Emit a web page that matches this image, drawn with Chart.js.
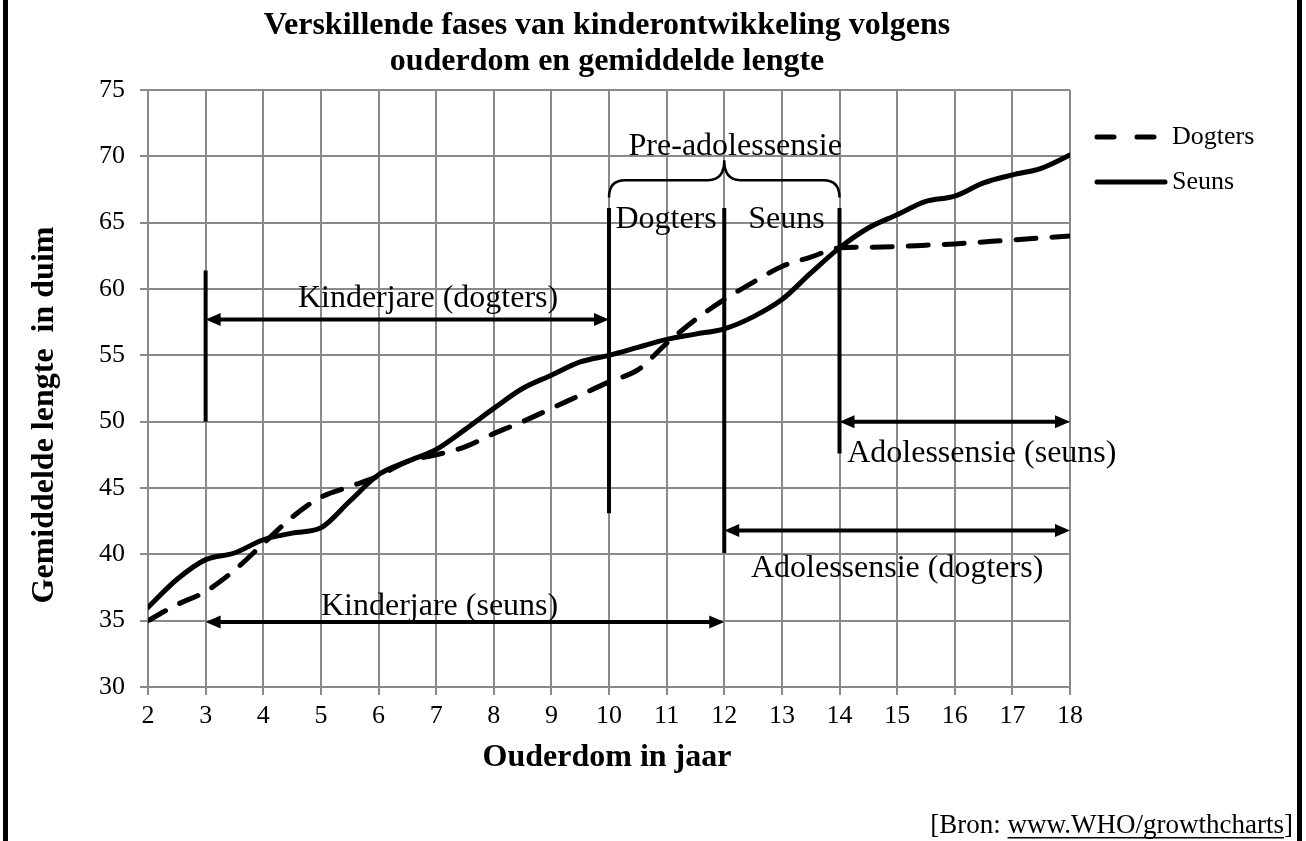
<!DOCTYPE html>
<html>
<head>
<meta charset="utf-8">
<script src="https://cdn.jsdelivr.net/npm/chart.js@4/dist/chart.umd.min.js"></script>
<style>
  html, body { margin: 0; padding: 0; background: #fff; }
  canvas { display: block; }
</style>
</head>
<body>
<canvas id="groei" width="1306" height="841"></canvas>
<script>
// waardes van die grafiek (ouderdom in jaar, lengte in duim)
const ages = [2, 2.5, 3, 3.5, 4, 4.5, 5, 5.5, 6, 6.5, 7, 7.5, 8, 8.5, 9, 9.5, 10,
  10.5, 11, 11.5, 12, 12.5, 13, 13.5, 14, 14.5, 15, 15.5, 16, 16.5, 17, 17.5, 18];
const dogters = [35.0, 36.2, 37.2, 38.8, 40.8, 42.8, 44.3, 45.1, 45.9, 47.0, 47.5, 48.1, 49.1, 50.0, 51.0, 52.0, 53.0,
  53.9, 55.9, 57.7, 59.2, 60.5, 61.7, 62.4, 63.1, 63.15, 63.2, 63.3, 63.4, 63.55, 63.7, 63.85, 64.0];
const seuns = [36.0, 38.1, 39.6, 40.1, 41.1, 41.6, 42.0, 44.0, 46.0, 47.0, 47.9, 49.4, 51.0, 52.5, 53.5, 54.5, 55.0,
  55.6, 56.2, 56.6, 57.0, 57.9, 59.2, 61.2, 63.1, 64.6, 65.6, 66.6, 67.0, 68.0, 68.6, 69.1, 70.1];

const titleLines = ['Verskillende fases van kinderontwikkeling volgens', 'ouderdom en gemiddelde lengte'];
const xTitle = 'Ouderdom in jaar';
const yTitle = 'Gemiddelde lengte  in duim';

// annotasies in data-eenhede
const vLines = [[3, 50, 61.4], [10, 43.1, 66.1], [12, 40.1, 66.1], [14, 47.6, 66.1]];  // x, y van, y tot
const arrows = [[3, 10, 57.7], [14, 18, 50.0], [12, 18, 41.8], [3, 12, 34.9]];          // x van, x tot, y
const notes = [
  ['Kinderjare (dogters)', 6.86, 58.65],
  ['Kinderjare (seuns)', 7.06, 35.44],
  ['Pre-adolessensie', 12.19, 70.1],
  ['Dogters', 10.99, 64.6],
  ['Seuns', 13.08, 64.6],
  ['Adolessensie (seuns)', 16.47, 46.97],
  ['Adolessensie (dogters)', 15.0, 38.3]
];
const brace = [10, 14, 66.9, 68.2, 69.7]; // x van, x tot, punte, horisontaal, middel

const serif = '"Liberation Serif", "Times New Roman", serif';

const extras = {
  id: 'extras',
  beforeDraw(chart) {
    const c = chart.ctx;
    c.save();
    c.fillStyle = '#fff';
    c.fillRect(0, 0, chart.width, chart.height);
    c.restore();
  },
  afterDatasetsDraw(chart) {
    const c = chart.ctx, xs = chart.scales.x, ys = chart.scales.y;
    c.save();
    c.strokeStyle = '#000';
    c.fillStyle = '#000';
    c.lineWidth = 4;
    c.lineCap = 'butt';
    vLines.forEach(v => {
      const x = xs.getPixelForValue(v[0]);
      c.beginPath();
      c.moveTo(x, ys.getPixelForValue(v[1]));
      c.lineTo(x, ys.getPixelForValue(v[2]));
      c.stroke();
    });
    arrows.forEach(a => {
      const x1 = xs.getPixelForValue(a[0]), x2 = xs.getPixelForValue(a[1]), y = ys.getPixelForValue(a[2]);
      c.beginPath();
      c.moveTo(x1 + 10, y);
      c.lineTo(x2 - 10, y);
      c.stroke();
      c.beginPath();
      c.moveTo(x1, y); c.lineTo(x1 + 15, y - 6.5); c.lineTo(x1 + 15, y + 6.5); c.closePath();
      c.fill();
      c.beginPath();
      c.moveTo(x2, y); c.lineTo(x2 - 15, y - 6.5); c.lineTo(x2 - 15, y + 6.5); c.closePath();
      c.fill();
    });
    // krulhakie bo pre-adolessensie
    const bx1 = xs.getPixelForValue(brace[0]), bx2 = xs.getPixelForValue(brace[1]);
    const bm = (bx1 + bx2) / 2;
    const yEnd = ys.getPixelForValue(brace[2]), yH = ys.getPixelForValue(brace[3]), yM = ys.getPixelForValue(brace[4]);
    c.lineWidth = 2.5;
    c.beginPath();
    c.moveTo(bx1, yEnd);
    c.quadraticCurveTo(bx1, yH, bx1 + 16, yH);
    c.lineTo(bm - 16, yH);
    c.quadraticCurveTo(bm, yH, bm, yM);
    c.quadraticCurveTo(bm, yH, bm + 16, yH);
    c.lineTo(bx2 - 16, yH);
    c.quadraticCurveTo(bx2, yH, bx2, yEnd);
    c.stroke();
    c.restore();
  },
  afterDraw(chart) {
    const c = chart.ctx, xs = chart.scales.x, ys = chart.scales.y, a = chart.chartArea;
    c.save();
    c.fillStyle = '#000';
    c.textBaseline = 'alphabetic';
    c.textAlign = 'center';
    c.font = '32px ' + serif;
    notes.forEach(n => c.fillText(n[0], xs.getPixelForValue(n[1]), ys.getPixelForValue(n[2])));

    // titel
    c.font = 'bold 32px ' + serif;
    const mid = (a.left + a.right) / 2 - 2;
    c.fillText(titleLines[0], mid, 34);
    c.fillText(titleLines[1], mid, 70);
    // as-titels
    c.fillText(xTitle, mid, 766);
    c.save();
    c.translate(53, 415);
    c.rotate(-Math.PI / 2);
    c.fillText(yTitle, 0, 0);
    c.restore();

    // legende
    const lx = a.right + 25;
    c.font = '26px ' + serif;
    c.textAlign = 'left';
    c.textBaseline = 'middle';
    chart.data.datasets.forEach((d, i) => {
      const ly = 137 + i * 45;
      c.strokeStyle = d.borderColor;
      c.lineWidth = 5;
      c.lineCap = 'round';
      c.setLineDash(d.borderDash.length ? [17, 23] : []);
      c.beginPath();
      c.moveTo(lx + 2, ly);
      c.lineTo(lx + 70, ly);
      c.stroke();
      c.setLineDash([]);
      c.fillText(d.label, lx + 77, ly);
    });

    // bron
    c.font = '27px ' + serif;
    c.textBaseline = 'alphabetic';
    c.textAlign = 'right';
    const bron1 = '[Bron: ', url = 'www.WHO/growthcharts', bron2 = ']';
    const rx = 1293;
    const w2 = c.measureText(bron2).width, wu = c.measureText(url).width;
    c.fillText(bron2, rx, 833);
    c.fillText(url, rx - w2, 833);
    c.fillText(bron1, rx - w2 - wu, 833);
    c.fillRect(rx - w2 - wu, 837, wu, 1.5);

    // raam
    c.fillRect(3, 0, 5, chart.height);
    c.fillRect(1297, 0, 5, chart.height);
    c.restore();
  }
};

const gridStyle = { color: '#8a8a8a', lineWidth: 2, tickLength: 8, tickColor: '#8a8a8a' };
const tickFont = { family: serif, size: 26 };

new Chart(document.getElementById('groei'), {
  type: 'line',
  data: {
    datasets: [
      {
        label: 'Dogters',
        data: ages.map((a, i) => ({ x: a, y: dogters[i] })),
        borderColor: '#000',
        borderWidth: 5,
        borderDash: [20, 16],
        borderCapStyle: 'round',
        pointRadius: 0,
        cubicInterpolationMode: 'monotone',
        fill: false
      },
      {
        label: 'Seuns',
        data: ages.map((a, i) => ({ x: a, y: seuns[i] })),
        borderColor: '#000',
        borderWidth: 5,
        borderDash: [],
        borderCapStyle: 'round',
        pointRadius: 0,
        cubicInterpolationMode: 'monotone',
        fill: false
      }
    ]
  },
  options: {
    responsive: false,
    animation: false,
    devicePixelRatio: 1,
    layout: { padding: { top: 90, right: 236, bottom: 0, left: 0 } },
    plugins: { legend: { display: false }, title: { display: false }, tooltip: { enabled: false } },
    scales: {
      x: {
        type: 'linear', min: 2, max: 18,
        ticks: { stepSize: 1, color: '#000', font: tickFont, padding: 6, maxRotation: 0 },
        grid: gridStyle,
        border: { color: '#8a8a8a', width: 2 },
        afterFit(s) { s.height = 154; }
      },
      y: {
        min: 30, max: 75,
        ticks: { stepSize: 5, color: '#000', font: tickFont, padding: 15 },
        grid: gridStyle,
        border: { color: '#8a8a8a', width: 2 },
        afterFit(s) { s.width = 148; }
      }
    }
  },
  plugins: [extras]
});
</script>
</body>
</html>
